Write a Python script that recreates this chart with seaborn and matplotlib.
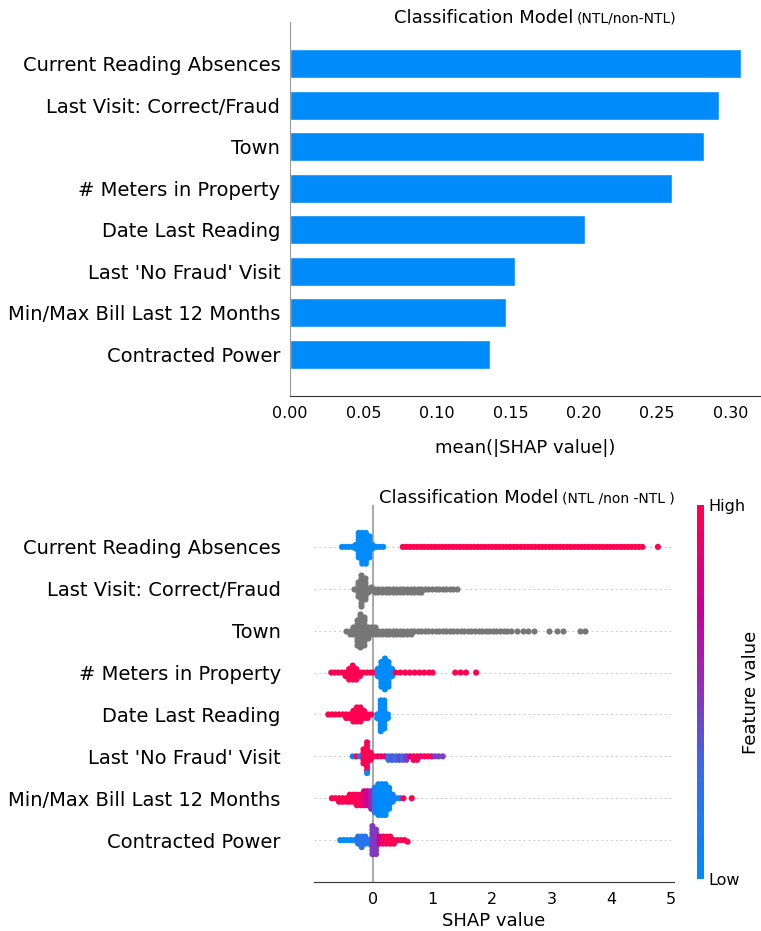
import numpy as np
import pandas as pd
import seaborn as sns
import matplotlib.pyplot as plt
from matplotlib.colors import LinearSegmentedColormap
from matplotlib.cm import ScalarMappable

# --- data ---
features = ["Current Reading Absences", "Last Visit: Correct/Fraud", "Town",
            "# Meters in Property", "Date Last Reading", "Last 'No Fraud' Visit",
            "Min/Max Bill Last 12 Months", "Contracted Power"]
mean_abs_shap = [0.307, 0.292, 0.282, 0.260, 0.201, 0.153, 0.147, 0.136]

# beeswarm dots: (SHAP value, number of dots, feature value 0=low..1=high, None=no value -> grey)
absences_pts = [(-0.52, 1, 0), (-0.46, 1, 0), (-0.40, 1, 0), (-0.34, 1, 0), (-0.29, 2, 0),
                (-0.24, 8, 0), (-0.18, 10, 0), (-0.12, 10, 0), (-0.06, 7, 0), (-0.01, 2, 0),
                (0.05, 1, 0), (0.11, 1, 0), (0.17, 1, 0), (4.78, 1, 1)]
# long run of single high-value dots
absences_run = [0.50, 0.56, 0.62, 0.68, 0.74, 0.80, 0.86, 0.92, 0.98, 1.04, 1.10, 1.16,
                1.22, 1.28, 1.34, 1.40, 1.46, 1.52, 1.58, 1.64, 1.70, 1.76, 1.82, 1.88,
                1.94, 2.00, 2.06, 2.12, 2.18, 2.24, 2.30, 2.36, 2.42, 2.48, 2.54, 2.60,
                2.66, 2.72, 2.78, 2.84, 2.90, 2.96, 3.02, 3.08, 3.14, 3.20, 3.26, 3.32,
                3.38, 3.44, 3.50, 3.56, 3.62, 3.68, 3.74, 3.80, 3.86, 3.92, 3.98, 4.04,
                4.10, 4.16, 4.22, 4.28, 4.34, 4.40, 4.46, 4.52]
absences_pts += [(x, 1, 1) for x in absences_run]

last_visit_pts = [(-0.32, 1, None), (-0.26, 5, None), (-0.20, 10, None), (-0.14, 7, None),
                  (-0.08, 2, None), (-0.03, 2, None), (0.03, 2, None), (0.09, 2, None),
                  (0.15, 2, None), (0.21, 2, None), (0.27, 2, None), (0.33, 2, None),
                  (0.39, 2, None), (0.45, 2, None), (0.51, 2, None), (0.57, 2, None),
                  (0.63, 2, None), (0.69, 2, None), (0.75, 2, None), (0.81, 2, None),
                  (0.87, 1, None), (0.93, 1, None), (0.99, 1, None), (1.05, 1, None),
                  (1.11, 1, None), (1.17, 1, None), (1.23, 1, None), (1.29, 1, None),
                  (1.35, 1, None), (1.41, 1, None)]

town_pts = [(-0.45, 1, None), (-0.39, 2, None), (-0.33, 3, None), (-0.27, 8, None),
            (-0.21, 11, None), (-0.15, 9, None), (-0.09, 4, None), (-0.03, 3, None),
            (0.03, 3, None), (0.09, 2, None), (0.15, 2, None), (0.21, 2, None),
            (0.27, 2, None), (0.33, 2, None), (0.39, 2, None), (0.45, 2, None),
            (0.51, 2, None), (0.57, 2, None), (0.63, 2, None), (2.42, 1, None),
            (2.51, 1, None), (2.60, 1, None), (2.70, 1, None), (2.95, 1, None),
            (3.08, 1, None), (3.18, 1, None), (3.47, 1, None), (3.56, 1, None)]
town_run = [0.69, 0.75, 0.81, 0.87, 0.93, 0.99, 1.05, 1.11, 1.17, 1.23, 1.29, 1.35,
            1.41, 1.47, 1.53, 1.59, 1.65, 1.71, 1.77, 1.83, 1.89, 1.95, 2.01, 2.07,
            2.13, 2.19, 2.25, 2.31]
town_pts += [(x, 1, None) for x in town_run]

meters_pts = [(-0.70, 1, 1), (-0.64, 1, 1), (-0.58, 1, 1), (-0.52, 1, 1), (-0.46, 2, 1),
              (-0.40, 4, 1), (-0.34, 5, 1), (-0.28, 4, 1), (-0.22, 2, 1), (-0.16, 1, 1),
              (-0.10, 1, 1), (-0.04, 1, 1), (0.02, 1, 1), (0.08, 3, 0), (0.14, 8, 0),
              (0.20, 10, 0), (0.26, 8, 0), (0.32, 3, 0), (0.38, 1, 1), (0.46, 1, 1),
              (0.54, 1, 1), (0.62, 1, 1), (0.70, 1, 1), (0.78, 1, 1), (0.86, 1, 1),
              (0.94, 1, 1), (1.00, 1, 1), (1.38, 1, 1), (1.47, 1, 1), (1.56, 1, 1),
              (1.73, 1, 1)]

date_pts = [(-0.75, 1, 1), (-0.69, 1, 1), (-0.63, 1, 1), (-0.57, 1, 1), (-0.51, 1, 1),
            (-0.45, 2, 1), (-0.39, 2, 1), (-0.33, 4, 1), (-0.27, 5, 1), (-0.21, 5, 1),
            (-0.15, 3, 1), (-0.09, 2, 1), (-0.03, 1, 1), (0.07, 2, 0), (0.13, 10, 0),
            (0.19, 9, 0), (0.25, 2, 0)]

no_fraud_pts = [(-0.34, 1, 0), (-0.28, 1, 1), (-0.22, 1, 0.1), (-0.16, 5, 1), (-0.10, 9, 1),
                (-0.10, 1, 0.05), (-0.04, 3, 1), (0.02, 1, 1), (0.08, 1, 0.9), (0.14, 1, 1),
                (0.20, 1, 0.85), (0.26, 2, 0.2), (0.32, 2, 0.4), (0.38, 2, 0.1),
                (0.44, 2, 0.45), (0.50, 2, 0.25), (0.56, 2, 0.5), (0.62, 1, 0.75),
                (0.68, 2, 0.95), (0.74, 2, 1), (0.80, 1, 0.85), (0.86, 1, 1), (0.92, 1, 1),
                (0.98, 1, 0.9), (1.04, 1, 0.45), (1.10, 1, 0.45), (1.17, 1, 0.45)]

bill_pts = [(-0.69, 1, 1), (-0.63, 1, 1), (-0.57, 2, 1), (-0.51, 2, 1), (-0.45, 2, 1),
            (-0.39, 3, 1), (-0.33, 3, 1), (-0.27, 4, 1), (-0.21, 4, 0.95), (-0.15, 5, 0.85),
            (-0.09, 5, 0.7), (-0.03, 6, 0.55), (0.03, 8, 0.15), (0.09, 10, 0), (0.15, 10, 0),
            (0.21, 10, 0), (0.27, 7, 0), (0.33, 3, 0.1), (0.39, 1, 0), (0.45, 1, 0.2),
            (0.51, 1, 1), (0.65, 1, 1)]

power_pts = [(-0.55, 1, 0), (-0.49, 1, 0), (-0.43, 1, 0), (-0.37, 1, 0), (-0.31, 1, 0.05),
             (-0.25, 3, 0.2), (-0.19, 4, 0.22), (-0.13, 3, 0.2), (-0.07, 2, 0.15),
             (-0.01, 9, 0.47), (0.05, 8, 0.47), (0.11, 3, 0.8), (0.17, 3, 0.9),
             (0.23, 3, 1), (0.29, 3, 1), (0.35, 2, 1), (0.41, 1, 1), (0.47, 1, 1),
             (0.53, 1, 1), (0.58, 1, 1)]

point_lists = [absences_pts, last_visit_pts, town_pts, meters_pts, date_pts,
               no_fraud_pts, bill_pts, power_pts]

rows = []
for feat, pts in zip(features, point_lists):
    for x, n, v in pts:
        rows += [{"feature": feat, "shap": x, "value": v}] * n
df = pd.DataFrame(rows)
df["value"] = df["value"].astype(float)
colored = df[df["value"].notna()]
grey = df[df["value"].isna()]

# --- styling ---
sns.set_style("white")
plt.rcParams["font.family"] = ["DejaVu Sans"]
for key in ["text.color", "axes.labelcolor", "xtick.color", "ytick.color"]:
    plt.rcParams[key] = "black"
blue = "#008bfb"
shap_cmap = LinearSegmentedColormap.from_list(
    "shap_red_blue",
    [(0.0, "#008bfb"), (0.3, "#3a6ae6"), (0.5, "#8d32b8"), (0.72, "#c8009a"), (1.0, "#ff0052")])

fig = plt.figure(figsize=(7.61, 9.31), dpi=100)

# --- top: mean |SHAP| bar chart ---
ax1 = fig.add_axes([290 / 761, 1 - 396 / 931, 470 / 761, 374 / 931])
sns.barplot(x=mean_abs_shap, y=features, orient="h", color=blue, saturation=1,
            width=0.7, ax=ax1)
ax1.set_ylim(8, -1)
ax1.set_xlim(0, 0.32)
ax1.set_xticks([0, 0.05, 0.10, 0.15, 0.20, 0.25, 0.30])
ax1.set_xticklabels(["0.00", "0.05", "0.10", "0.15", "0.20", "0.25", "0.30"])
ax1.tick_params(axis="y", length=0, pad=7, labelsize=14)
ax1.tick_params(axis="x", length=4, width=1, labelsize=11.5, color="#333333")
for s in ["top", "right"]:
    ax1.spines[s].set_visible(False)
ax1.spines["left"].set_color("#999999")
ax1.spines["bottom"].set_color("#333333")
ax1.set_xlabel("mean(|SHAP value|)", fontsize=13, labelpad=13)
ax1.set_ylabel("")
fig.text(573 / 761, 1 - 23 / 931, "Classification Model", ha="right", va="baseline", fontsize=13)
fig.text(577 / 761, 1 - 23 / 931, "(NTL/non-NTL)", ha="left", va="baseline", fontsize=10)

# --- bottom: beeswarm ---
dot = 2.4  # swarm spacing (pt); dots are drawn fatter below
ax2 = fig.add_axes([314 / 761, 1 - 882 / 931, 360 / 761, 377 / 931])
ax2.axvline(0, color="#999999", lw=1.2, zorder=-1)
for i in range(len(features)):
    ax2.axhline(i, color="#cccccc", lw=0.7, dashes=(2, 3), zorder=-1)
sns.swarmplot(data=colored, x="shap", y="feature", order=features, hue="value",
              palette=shap_cmap, hue_norm=(0, 1), size=dot, legend=False,
              orient="h", warn_thresh=1.0, ax=ax2)
sns.swarmplot(data=grey, x="shap", y="feature", order=features, color="#777777",
              size=dot, orient="h", warn_thresh=1.0, ax=ax2)
ax2.set_ylim(8, -1)
ax2.set_xlim(-0.99, 5.05)
ax2.set_xticks([0, 1, 2, 3, 4, 5])
ax2.tick_params(axis="y", length=0, pad=24, labelsize=14)
ax2.tick_params(axis="x", length=4, width=1, labelsize=11.5, color="#333333")
for s in ["top", "right", "left"]:
    ax2.spines[s].set_visible(False)
ax2.spines["bottom"].set_color("#333333")
ax2.set_xlabel("SHAP value", fontsize=13, labelpad=3)
ax2.set_ylabel("")
fig.text(558 / 761, 1 - 503 / 931, "Classification Model", ha="right", va="baseline", fontsize=13)
fig.text(562 / 761, 1 - 503 / 931, "(NTL /non -NTL )", ha="left", va="baseline", fontsize=10)

# colour bar
cax = fig.add_axes([697 / 761, 1 - 879 / 931, 7 / 761, 374 / 931])
sm = ScalarMappable(cmap=shap_cmap, norm=plt.Normalize(0, 1))
cb = fig.colorbar(sm, cax=cax, ticks=[0, 1])
cb.set_ticklabels(["Low", "High"])
cb.ax.tick_params(labelsize=11.5, length=0)
cb.outline.set_visible(False)
cb.set_label("Feature value", fontsize=13, labelpad=-3)

# let seaborn lay out the swarm once, then freeze it and draw the dots fatter
# than the swarm spacing so dense runs look solid like the original
fig.canvas.draw()
for coll in ax2.collections:
    if "draw" in coll.__dict__:
        del coll.draw
    coll.set_sizes([(dot * 1.85) ** 2])

fig.savefig("out.png", dpi=100)
plt.close(fig)
